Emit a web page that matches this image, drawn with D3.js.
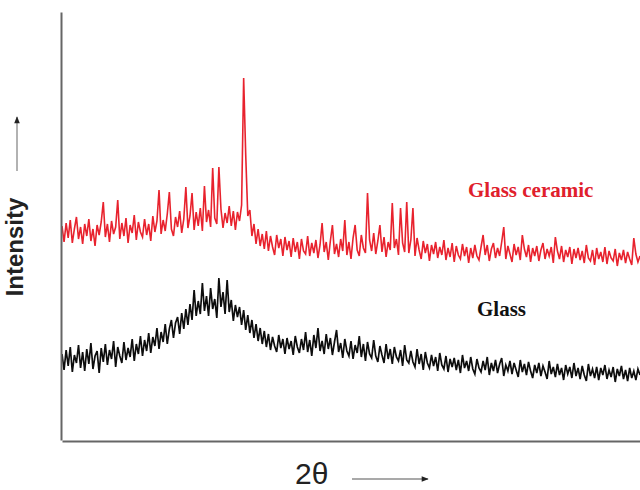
<!DOCTYPE html>
<html>
<head>
<meta charset="utf-8">
<script src="https://cdn.jsdelivr.net/npm/d3@7"></script>
<style>
  body { margin: 0; background: #fff; }
  svg { display: block; }
</style>
</head>
<body>
<svg id="chart" width="640" height="490"></svg>
<script>
const width = 640, height = 490;

// 2theta grid (deg), 10..80 step 0.25
const twoTheta = d3.range(0, 281).map(i => 10 + i * 0.25);

// glass ceramic trace (arb. units)
const ceramic = [
  214, 198, 217, 202, 220, 197, 211, 223, 201, 213,
  196, 216, 204, 221, 199, 211, 194, 215, 205, 218,
  238, 203, 216, 198, 219, 206, 213, 240, 201, 217,
  204, 222, 197, 215, 207, 225, 200, 218, 208, 203,
  221, 205, 216, 199, 224, 208, 219, 250, 206, 220,
  209, 226, 248, 211, 204, 223, 213, 229, 207, 221,
  253, 212, 224, 247, 210, 228, 214, 232, 209, 254,
  218, 230, 213, 272, 222, 216, 273, 231, 212, 227,
  217, 234, 214, 229, 210, 228, 219, 235, 362, 285,
  224, 230, 204, 216, 196, 211, 194, 206, 191, 209,
  189, 204, 193, 185, 205, 192, 201, 184, 203, 190,
  199, 183, 202, 188, 198, 181, 201, 189, 186, 204,
  184, 197, 187, 200, 182, 195, 217, 188, 198, 180,
  199, 215, 186, 196, 183, 201, 189, 220, 185, 198,
  181, 202, 215, 190, 184, 205, 192, 187, 247, 200,
  189, 207, 186, 199, 215, 188, 203, 183, 198, 190,
  237, 192, 201, 185, 232, 197, 188, 238, 187, 200,
  232, 184, 202, 190, 181, 199, 187, 196, 179, 195,
  186, 198, 182, 193, 185, 200, 180, 192, 183, 197,
  178, 194, 185, 181, 196, 184, 193, 177, 192, 182,
  195, 184, 180, 193, 205, 185, 195, 179, 191, 197,
  182, 192, 184, 198, 213, 181, 194, 186, 178, 196,
  185, 193, 180, 205, 191, 183, 195, 178, 192, 184,
  194, 179, 190, 197, 181, 191, 184, 193, 177, 203,
  189, 181, 194, 178, 190, 183, 193, 176, 191, 182,
  192, 180, 189, 177, 195, 182, 179, 190, 175, 192,
  181, 188, 178, 193, 176, 189, 182, 179, 191, 174,
  187, 180, 190, 177, 188, 181, 175, 202, 186, 178,
  184
];

// glass trace (arb. units)
const glass = [
  86, 70, 90, 74, 93, 68, 85, 77, 95, 72,
  88, 69, 91, 76, 97, 71, 84, 89, 67, 92,
  78, 96, 75, 90, 81, 99, 73, 93, 84, 77,
  98, 80, 92, 83, 101, 79, 96, 86, 104, 84,
  100, 89, 107, 87, 103, 94, 112, 91, 108, 98,
  116, 96, 111, 120, 102, 117, 123, 106, 127, 111,
  131, 115, 136, 120, 150, 124, 139, 126, 157, 129,
  144, 124, 152, 131, 141, 122, 162, 133, 148, 126,
  160, 128, 140, 119, 135, 123, 133, 115, 130, 110,
  125, 107, 120, 102, 116, 99, 112, 96, 109, 93,
  106, 90, 103, 94, 88, 105, 92, 101, 86, 102,
  91, 99, 85, 104, 93, 87, 101, 90, 108, 88,
  100, 84, 105, 92, 112, 89, 99, 86, 106, 91,
  102, 85, 98, 110, 88, 97, 82, 101, 89, 84,
  99, 81, 95, 87, 104, 83, 96, 79, 98, 86,
  82, 100, 84, 78, 94, 85, 77, 96, 81, 91,
  76, 93, 83, 79, 90, 74, 95, 80, 77, 89,
  78, 73, 91, 76, 86, 70, 88, 77, 72, 85,
  74, 83, 69, 87, 75, 71, 84, 68, 81, 73,
  82, 70, 80, 67, 85, 72, 79, 69, 83, 71,
  66, 81, 72, 68, 79, 70, 83, 65, 77, 69,
  80, 67, 76, 82, 64, 75, 69, 79, 66, 77,
  70, 63, 80, 68, 76, 65, 78, 69, 62, 75,
  67, 77, 64, 74, 68, 61, 79, 66, 73, 63,
  76, 65, 72, 60, 75, 66, 73, 62, 77, 64,
  72, 61, 74, 65, 59, 76, 64, 71, 62, 73,
  60, 72, 65, 75, 61, 70, 63, 73, 58, 71,
  64, 74, 61, 70, 59, 72, 62, 69, 60, 71,
  65
];

const seriesNames = ['Glass ceramic', 'Glass'];

const svg = d3.select('#chart');

const x = d3.scaleLinear().domain([10, 80]).range([62, 640]);
const y = d3.scaleLinear().domain([0, 428]).range([440, 12]);

const defs = svg.append('defs');

// arrow marker
defs.append('marker')
  .attr('id', 'arrow')
  .attr('viewBox', '0 0 10 10')
  .attr('refX', 9).attr('refY', 5)
  .attr('markerWidth', 9).attr('markerHeight', 7)
  .attr('markerUnits', 'userSpaceOnUse')
  .attr('orient', 'auto')
  .append('path')
  .attr('d', 'M0,1 L10,5 L0,9 Z')
  .attr('fill', '#222');

// soft edges like the scanned original
defs.append('filter')
  .attr('id', 'soft')
  .append('feGaussianBlur')
  .attr('stdDeviation', 0.45);

const line = d3.line()
  .x((d, i) => x(twoTheta[i]))
  .y(d => y(d));

svg.append('path')
  .datum(ceramic)
  .attr('fill', 'none')
  .attr('stroke', '#e8232d')
  .attr('stroke-width', 1.6)
  .attr('filter', 'url(#soft)')
  .attr('d', line);

svg.append('path')
  .datum(glass)
  .attr('fill', 'none')
  .attr('stroke', '#111')
  .attr('stroke-width', 1.7)
  .attr('filter', 'url(#soft)')
  .attr('d', line);

// axes: plain lines, no ticks
const xAxis = svg.append('g')
  .attr('transform', 'translate(0,441)')
  .call(d3.axisBottom(x).tickValues([]).tickSizeOuter(0));
const yAxis = svg.append('g')
  .attr('transform', 'translate(61,0)')
  .call(d3.axisLeft(y).tickValues([]).tickSizeOuter(0));
[xAxis, yAxis].forEach(g => g.select('.domain')
  .attr('stroke', '#666')
  .attr('stroke-width', 2));

// labels
svg.append('text')
  .attr('transform', 'translate(23,247) rotate(-90)')
  .attr('text-anchor', 'middle')
  .attr('font-family', 'Liberation Sans, Arial, sans-serif')
  .attr('font-weight', 'bold')
  .attr('font-size', 24)
  .attr('fill', '#222')
  .text('Intensity');

svg.append('line')
  .attr('x1', 17).attr('x2', 17)
  .attr('y1', 171).attr('y2', 117)
  .attr('stroke', '#999')
  .attr('stroke-width', 1.5)
  .attr('marker-end', 'url(#arrow)');

svg.append('text')
  .attr('x', 295).attr('y', 484)
  .attr('font-family', 'Liberation Sans, Arial, sans-serif')
  .attr('font-size', 30)
  .attr('fill', '#222')
  .text('2θ');

svg.append('line')
  .attr('x1', 352).attr('x2', 428)
  .attr('y1', 479).attr('y2', 479)
  .attr('stroke', '#555')
  .attr('stroke-width', 1.2)
  .attr('marker-end', 'url(#arrow)');

svg.append('text')
  .attr('x', 468).attr('y', 197)
  .attr('font-family', 'Liberation Serif, Times New Roman, serif')
  .attr('font-weight', 'bold')
  .attr('font-size', 21)
  .attr('fill', '#e0202c')
  .text(seriesNames[0]);

svg.append('text')
  .attr('x', 477).attr('y', 316)
  .attr('font-family', 'Liberation Serif, Times New Roman, serif')
  .attr('font-weight', 'bold')
  .attr('font-size', 21)
  .attr('fill', '#111')
  .text(seriesNames[1]);
</script>
</body>
</html>
